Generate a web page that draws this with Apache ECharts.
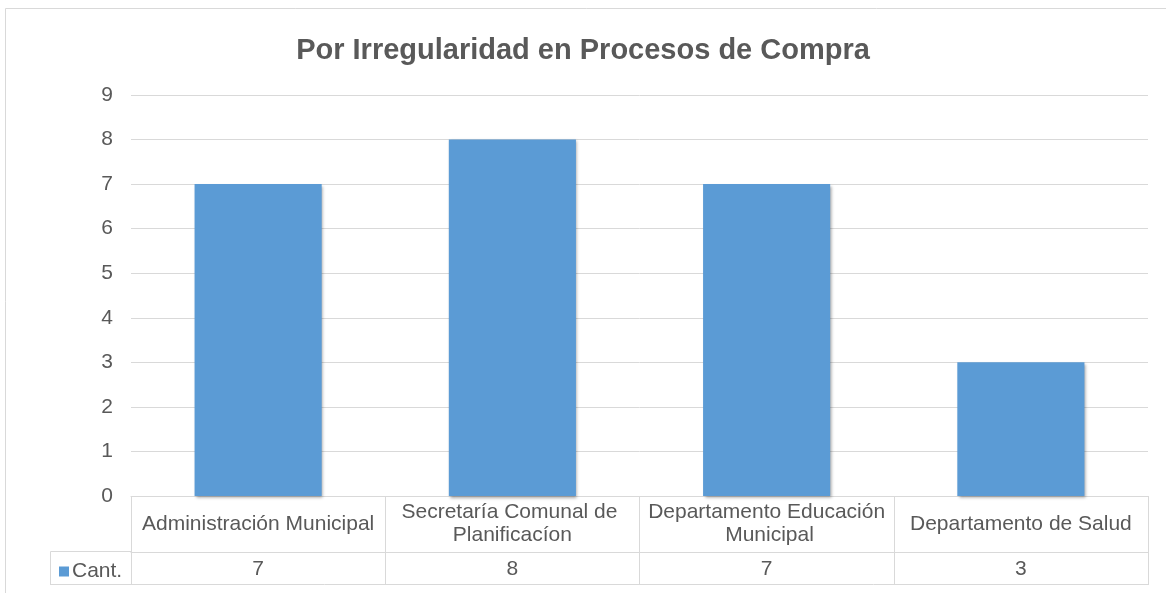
<!DOCTYPE html>
<html><head><meta charset="utf-8">
<script src="https://cdn.jsdelivr.net/npm/echarts@6/dist/echarts.min.js"></script>
<style>html,body{margin:0;padding:0;background:#fff}#c{width:1166px;height:593px}</style>
</head><body><div id="c"></div>
<script>
const categories = ['Administración Municipal', 'Secretaría Comunal de Planificacíon', 'Departamento Educación Municipal', 'Departamento de Salud'];
const values = [7, 8, 7, 3];
const seriesName = 'Cant.';
const titleText = 'Por Irregularidad en Procesos de Compra';

const chart = echarts.init(document.getElementById('c'));
const txt = '#595959', line = '#d9d9d9', font = 'Liberation Sans, Arial, sans-serif';
chart.setOption({
  animation: false,
  textStyle: { fontFamily: font },
  title: { text: titleText, left: 'center', top: 31, textStyle: { fontSize: 29, fontWeight: 'bold', color: txt, fontFamily: font } },
  legend: { left: 54, top: 556, itemWidth: 10, itemHeight: 10, itemGap: 2, icon: 'rect',
    textStyle: { fontSize: 21, color: txt, padding: [0,0,0,-2] }, data: [seriesName] },
  grid: { left: 131, right: 18, top: 95, bottom: 97 },
  xAxis: [
    { type: 'category', data: categories, position: 'bottom',
      axisLine: { show: true, lineStyle: { color: line, width: 1 } },
      axisTick: { show: true, interval: 0, length: 56, lineStyle: { color: line } },
      axisLabel: { interval: 0, color: txt, fontSize: 21, margin: 28, verticalAlign: 'middle', width: 248, overflow: 'break', lineHeight: 23, align: 'center' } },
    { type: 'category', data: values.map(String), position: 'bottom', offset: 56,
      axisLine: { show: true, lineStyle: { color: line, width: 1 } },
      axisTick: { show: true, interval: 0, length: 33, lineStyle: { color: line } },
      axisLabel: { interval: 0, color: txt, fontSize: 21, margin: 17, verticalAlign: 'middle' } }
  ],
  yAxis: { type: 'value', min: 0, max: 9, interval: 1,
    axisLine: { show: false }, axisTick: { show: false },
    axisLabel: { color: txt, fontSize: 21, margin: 18 },
    splitLine: { lineStyle: { color: line, width: 1 } } },
  series: [{ name: seriesName, type: 'bar', data: values, barWidth: '50%',
    itemStyle: { color: '#5B9BD5', shadowColor: 'rgba(0,0,0,0.35)', shadowBlur: 3, shadowOffsetX: 1.5, shadowOffsetY: 1.5 } }],
  graphic: [
    { type: 'rect', shape: { x: 5.5, y: 8.5, width: 1165, height: 590 }, style: { fill: 'none', stroke: line, lineWidth: 1 }, silent: true },
    { type: 'rect', shape: { x: 50.5, y: 551.5, width: 81, height: 33 }, style: { fill: 'none', stroke: line, lineWidth: 1 }, silent: true },
    { type: 'line', shape: { x1: 50, y1: 584.5, x2: 1148, y2: 584.5 }, style: { stroke: line, lineWidth: 1 }, silent: true }
  ]
});
</script></body></html>
